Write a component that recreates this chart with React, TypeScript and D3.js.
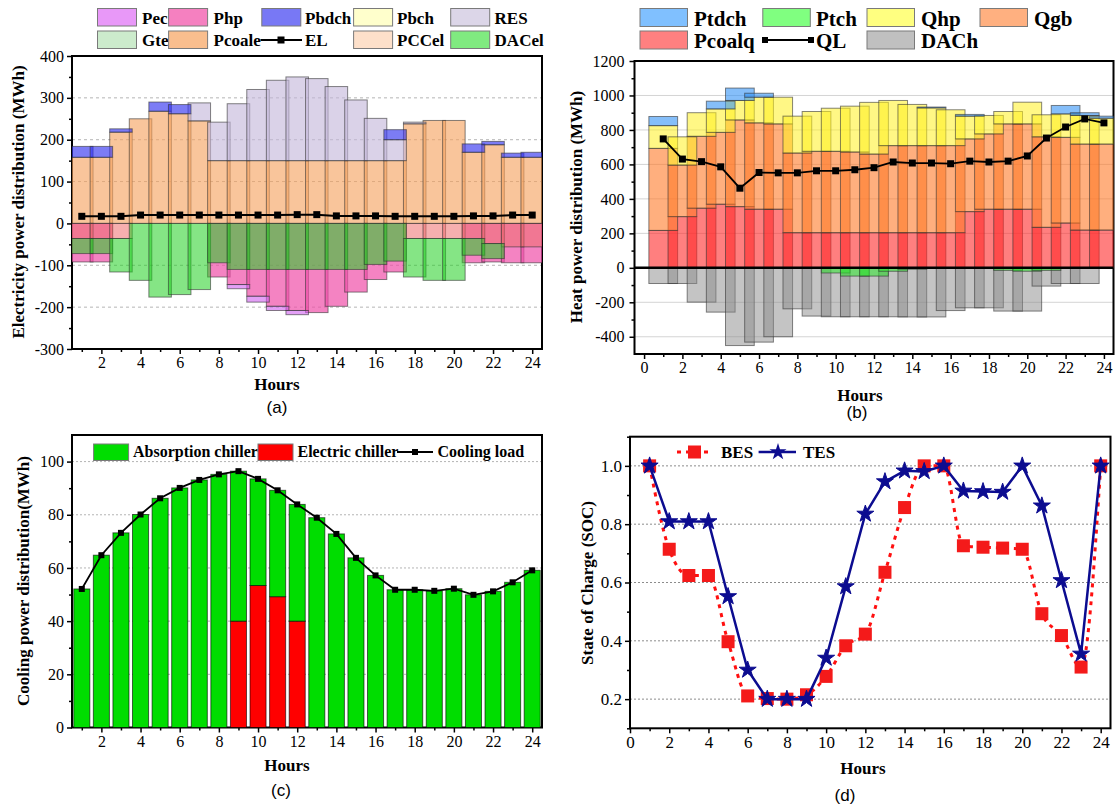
import React, { useEffect, useRef } from 'react';
import * as d3 from 'd3';

const hours = d3.range(1, 25);

// (a) electricity power distribution (MWh)
const pCoale = [158, 158, 218, 250, 268, 262, 245, 150, 150, 150, 150, 150, 150, 150, 150, 150, 150, 238, 246, 246, 170, 188, 158, 158];
const resE = [0, 0, 0, 0, 0, 0, 43, 92, 136, 170, 192, 200, 196, 177, 145, 101, 50, 4, 0, 0, 0, 0, 0, 0];
const pBdch = [26, 26, 8, 0, 22, 22, 0, 0, 0, 0, 0, 0, 0, 0, 0, 0, 24, 0, 0, 0, 20, 8, 10, 12];
const pcCel = [36, 36, 36, 0, 0, 0, 0, 0, 0, 0, 0, 0, 0, 0, 0, 0, 0, 36, 36, 36, 36, 48, 56, 56];
const daCel = [36, 36, 80, 136, 176, 170, 158, 94, 110, 110, 110, 110, 110, 110, 110, 98, 90, 92, 100, 100, 40, 36, 0, 0];
const pHp = [20, 20, 0, 0, 0, 0, 0, 34, 36, 64, 88, 98, 103, 88, 54, 36, 26, 0, 0, 0, 18, 8, 38, 38];
const pEc = [0, 0, 0, 0, 0, 0, 0, 0, 10, 14, 10, 10, 0, 0, 0, 0, 0, 0, 0, 0, 0, 0, 0, 0];
const eLoad = [17, 17, 17, 20, 20, 20, 20, 20, 20, 20, 20, 21, 21, 18, 18, 18, 17, 17, 17, 17, 18, 18, 20, 20];

// (b) heat power distribution (MWh)
const pCoalq = [217, 297, 346, 369, 355, 340, 340, 204, 204, 204, 204, 204, 204, 204, 204, 204, 326, 340, 340, 340, 235, 260, 219, 219];
const qGb = [476, 299, 417, 417, 503, 501, 495, 462, 472, 472, 468, 456, 505, 505, 505, 505, 422, 437, 495, 495, 525, 497, 499, 499];
const qHp = [132, 164, 137, 136, 113, 149, 155, 214, 231, 250, 266, 300, 262, 239, 219, 208, 132, 107, 72, 126, 128, 136, 166, 150];
const pTdch = [53, 0, 0, 45, 72, 23, 0, 0, 0, 0, 0, 0, 0, 0, 5, 0, 10, 0, 0, 0, 0, 49, 16, 12];
const pTch = [0, 0, 0, 0, 0, 0, 0, 0, 0, 30, 48, 48, 20, 8, 0, 0, 0, 0, 15, 20, 15, 0, 0, 0];
const daCh = [91, 91, 199, 257, 451, 431, 400, 238, 280, 284, 284, 284, 284, 285, 285, 248, 232, 232, 251, 251, 106, 91, 91, 0];
const qLoad = [748, 631, 616, 586, 462, 553, 551, 551, 563, 563, 569, 581, 614, 608, 608, 604, 619, 614, 619, 649, 753, 817, 864, 841];

// (c) cooling power distribution (MWh)
const absorption = [52.1, 64.8, 73.2, 80.1, 86.2, 90.1, 93.1, 95.2, 56.4, 40.1, 40.0, 43.9, 78.9, 72.8, 63.8, 57.2, 51.8, 51.8, 51.4, 52.2, 49.9, 51.2, 54.6, 59.1];
const electric = [0, 0, 0, 0, 0, 0, 0, 0, 40, 53.4, 49.2, 40, 0, 0, 0, 0, 0, 0, 0, 0, 0, 0, 0, 0];
const coolLoad = [52.1, 64.8, 73.2, 80.1, 86.2, 90.1, 93.1, 95.2, 96.4, 93.5, 89.2, 83.9, 78.9, 72.8, 63.8, 57.2, 51.8, 51.8, 51.4, 52.2, 49.9, 51.2, 54.6, 59.1];

// (d) state of charge
const bes = [1.0, 0.714, 0.624, 0.624, 0.397, 0.211, 0.202, 0.2, 0.215, 0.278, 0.383, 0.423, 0.635, 0.857, 1.0, 1.0, 0.726, 0.721, 0.718, 0.714, 0.493, 0.418, 0.31, 1.0];
const tes = [1.0, 0.809, 0.809, 0.809, 0.552, 0.3, 0.2, 0.2, 0.2, 0.341, 0.586, 0.835, 0.946, 0.983, 0.981, 1.0, 0.914, 0.912, 0.91, 1.0, 0.863, 0.607, 0.355, 1.0];

const SERIF = "'Liberation Serif', 'Times New Roman', Times, serif";
const SANS = "'Liberation Sans', Arial, Helvetica, sans-serif";

const add = (a: number[], b: number[]) => a.map((v, i) => v + b[i]);
const neg = (a: number[]) => a.map(v => -v);
const zeros = hours.map(() => 0);

function clip(svg: any, id: string, x: any, y: any) {
  const [l, r] = x.range();
  const [b, t] = y.range();
  svg.append('clipPath').attr('id', id).append('rect')
    .attr('x', l).attr('y', t).attr('width', r - l).attr('height', b - t);
  return svg.append('g').attr('clip-path', `url(#${id})`);
}

function grid(g: any, x: any, y: any, vals: number[], color: string, dash: string | null) {
  const [l, r] = x.range();
  g.append('g').selectAll('line').data(vals).join('line')
    .attr('x1', l).attr('x2', r)
    .attr('y1', (d: number) => y(d)).attr('y2', (d: number) => y(d))
    .attr('stroke', color).attr('stroke-width', 1)
    .attr('stroke-dasharray', dash);
}

function bars(g: any, x: any, y: any, lo: number[], hi: number[], w: number, fill: string, op: number, stroke = '#333') {
  const data = hours.map((h, i) => ({ h, a: lo[i], b: hi[i] })).filter(d => d.a !== d.b);
  g.append('g').selectAll('rect').data(data).join('rect')
    .attr('x', (d: any) => x(d.h - w / 2))
    .attr('width', x(w) - x(0))
    .attr('y', (d: any) => y(Math.max(d.a, d.b)))
    .attr('height', (d: any) => Math.abs(y(d.a) - y(d.b)))
    .attr('fill', fill).attr('fill-opacity', op)
    .attr('stroke', stroke).attr('stroke-opacity', 0.6).attr('stroke-width', 1);
}

function squares(g: any, x: any, y: any, vals: number[], size: number, fill: string) {
  g.append('g').selectAll('rect').data(vals).join('rect')
    .attr('x', (d: number, i: number) => x(hours[i]) - size / 2)
    .attr('y', (d: number) => y(d) - size / 2)
    .attr('width', size).attr('height', size).attr('fill', fill);
}

function frame(g: any, x: any, y: any, o: any) {
  const [l, r] = x.range();
  const [b, t] = y.range();
  const style = (sel: any) => {
    sel.select('.domain').remove();
    sel.selectAll('line').attr('stroke', '#000').attr('stroke-width', 1.5);
    sel.selectAll('text').attr('font-family', SERIF).attr('font-size', o.fs).attr('fill', '#000');
  };
  g.append('g').attr('transform', `translate(0,${b})`)
    .call(d3.axisBottom(x).tickValues(o.xMajor).tickSize(5).tickPadding(3).tickFormat((d: any) => String(d))).call(style);
  g.append('g').attr('transform', `translate(0,${b})`)
    .call(d3.axisBottom(x).tickValues(o.xMinor).tickSize(3).tickFormat(() => '')).call(style);
  g.append('g').attr('transform', `translate(${l},0)`)
    .call(d3.axisLeft(y).tickValues(o.yMajor).tickSize(5).tickPadding(o.pad || 3).tickFormat(o.yFmt)).call(style);
  g.append('g').attr('transform', `translate(${l},0)`)
    .call(d3.axisLeft(y).tickValues(o.yMinor).tickSize(3).tickFormat(() => '')).call(style);
  g.append('rect').attr('x', l).attr('y', t).attr('width', r - l).attr('height', b - t)
    .attr('fill', 'none').attr('stroke', '#000').attr('stroke-width', 2);
}

function text(g: any, x: number, y: number, s: string, size: number, o: any = {}) {
  const t = g.append('text').attr('x', x).attr('y', y).text(s)
    .attr('font-family', o.family || SERIF).attr('font-size', size)
    .attr('font-weight', o.bold === false ? 'normal' : 'bold')
    .attr('text-anchor', o.anchor || 'start').attr('fill', '#000');
  if (o.rotate) t.attr('transform', `rotate(-90,${x},${y})`);
  return t;
}

function swatch(g: any, x: number, y: number, w: number, h: number, fill: string) {
  g.append('rect').attr('x', x).attr('y', y).attr('width', w).attr('height', h)
    .attr('fill', fill).attr('stroke', '#7a7a7a').attr('stroke-width', 1);
}

function drawA(svg: any) {
  const x = d3.scaleLinear().domain([0.5, 24.5]).range([72, 542]);
  const y = d3.scaleLinear().domain([-300, 400]).range([349, 56]);
  const g = svg.append('g');
  grid(g, x, y, [-200, -100, 100, 200, 300], '#b5b5b5', '3,3');
  const p = clip(svg, 'clipA', x, y);
  const w = 1.15;
  const s1 = add(pCoale, resE);
  const s2 = add(s1, pBdch);
  bars(p, x, y, zeros, pCoale, w, '#F5A25E', 0.62);
  bars(p, x, y, pCoale, s1, w, '#C4B6DA', 0.62);
  bars(p, x, y, s1, s2, w, '#3535F0', 0.65);
  const n1 = add(pcCel, daCel);
  const n2 = add(n1, pHp);
  const n3 = add(n2, pEc);
  // Php drawn behind the stack so the overlapping green reads olive, as in the source
  bars(p, x, y, zeros, neg(n2.map((v, i) => (pHp[i] > 0 ? v : 0))), w, '#F04FA8', 0.7);
  bars(p, x, y, zeros, neg(pcCel), w, '#EE6E6E', 0.55);
  bars(p, x, y, neg(pcCel), neg(n1), w, '#20D020', 0.55);
  bars(p, x, y, neg(n2), neg(n3), w, '#D060F0', 0.6);
  const line = d3.line<number>().x((d, i) => x(hours[i])).y(d => y(d));
  p.append('path').attr('d', line(eLoad)).attr('fill', 'none').attr('stroke', '#000').attr('stroke-width', 2);
  squares(p, x, y, eLoad, 7, '#000');
  frame(g, x, y, {
    xMajor: d3.range(2, 25, 2), xMinor: d3.range(1, 25, 2),
    yMajor: d3.range(-300, 401, 100), yMinor: d3.range(-250, 400, 100),
    yFmt: (d: any) => String(d), fs: 16,
  });
  text(g, 24, 202, 'Electricity power distribution (MWh)', 17, { rotate: true, anchor: 'middle' });
  text(g, 277, 390, 'Hours', 17, { anchor: 'middle' });
  text(g, 277, 413, '(a)', 17, { anchor: 'middle', bold: false, family: SANS });

  // legend
  const sx = [97.5, 168.6, 261.8, 353.6, 450.7];
  const tx = [142, 213.6, 305, 397, 494.6];
  const row1 = [['Pec', '#E898F8'], ['Php', '#F580C0'], ['Pbdch', '#7878F5'], ['Pbch', '#FFFFCC'], ['RES', '#DCD6E8']];
  const row2 = [['Gte', '#CCEBCC'], ['Pcoale', '#F9BE8E'], ['EL', ''], ['PCCel', '#FDE0CA'], ['DACel', '#80EA80']];
  row1.forEach((d, i) => { swatch(g, sx[i], 8.5, 39, 17.5, d[1]); text(g, tx[i], 23.5, d[0], 17); });
  row2.forEach((d, i) => {
    if (d[1]) swatch(g, sx[i], 31, 39, 17.5, d[1]);
    else {
      g.append('line').attr('x1', 260.5).attr('x2', 302).attr('y1', 40).attr('y2', 40).attr('stroke', '#000').attr('stroke-width', 2);
      g.append('rect').attr('x', 277.5).attr('y', 36.5).attr('width', 7).attr('height', 7).attr('fill', '#000');
    }
    text(g, tx[i], 46, d[0], 17);
  });
}

function drawB(svg: any) {
  const x = d3.scaleLinear().domain([-0.5, 24.5]).range([634.5, 1113.5]);
  const y = d3.scaleLinear().domain([-500, 1200]).range([354, 61]);
  const g = svg.append('g');
  grid(g, x, y, [-400, -200, 200, 400, 600, 800, 1000], '#d4d4d4', null);
  const p = clip(svg, 'clipB', x, y);
  const w = 1.5;
  bars(p, x, y, zeros, neg(daCh), w, '#8A8A8A', 0.5);
  bars(p, x, y, zeros, neg(pTch), w, '#2EE82E', 0.55);
  const s1 = add(pCoalq, qGb);
  const s2 = add(s1, qHp);
  const s3 = add(s2, pTdch);
  bars(p, x, y, zeros, pCoalq, w, '#FF2A2A', 0.6);
  bars(p, x, y, pCoalq, s1, w, '#FF7A28', 0.6);
  bars(p, x, y, s1, s2, w, '#FFF020', 0.55);
  bars(p, x, y, s2, s3, w, '#3392F5', 0.6);
  p.append('line').attr('x1', x(-0.5)).attr('x2', x(24.5)).attr('y1', y(0)).attr('y2', y(0))
    .attr('stroke', '#000').attr('stroke-width', 2.5);
  const line = d3.line<number>().x((d, i) => x(hours[i])).y(d => y(d));
  p.append('path').attr('d', line(qLoad)).attr('fill', 'none').attr('stroke', '#000').attr('stroke-width', 1.8);
  squares(p, x, y, qLoad, 7, '#000');
  frame(g, x, y, {
    xMajor: d3.range(0, 25, 2), xMinor: d3.range(1, 25, 2),
    yMajor: d3.range(-400, 1201, 200), yMinor: d3.range(-300, 1200, 200),
    yFmt: (d: any) => String(d), fs: 16, pad: 5,
  });
  text(g, 582, 207, 'Heat power distribution (MWh)', 17, { rotate: true, anchor: 'middle' });
  text(g, 860, 401, 'Hours', 17, { anchor: 'middle' });
  text(g, 857, 418, '(b)', 17, { anchor: 'middle', bold: false, family: SANS });

  const sx = [640, 762.8, 867, 980];
  const tx = [694, 816, 921, 1034];
  const row1 = [['Ptdch', '#80C0FF'], ['Ptch', '#80FF80'], ['Qhp', '#FFFF80'], ['Qgb', '#FFB080']];
  row1.forEach((d, i) => { swatch(g, sx[i], 8.5, 47.5, 18, d[1]); text(g, tx[i], 26, d[0], 21); });
  swatch(g, sx[0], 31, 47.5, 18, '#FF8080');
  text(g, tx[0], 48, 'Pcoalq', 21);
  g.append('line').attr('x1', 765).attr('x2', 811).attr('y1', 40).attr('y2', 40).attr('stroke', '#000').attr('stroke-width', 2);
  g.append('rect').attr('x', 762).attr('y', 37).attr('width', 6).attr('height', 6).attr('fill', '#000');
  g.append('rect').attr('x', 808).attr('y', 37).attr('width', 6).attr('height', 6).attr('fill', '#000');
  text(g, tx[1], 48, 'QL', 21);
  swatch(g, sx[2], 31, 47.5, 18, '#C0C0C0');
  text(g, tx[2], 48, 'DACh', 21);
}

function drawC(svg: any) {
  const x = d3.scaleLinear().domain([0.5, 24.5]).range([72, 542]);
  const y = d3.scaleLinear().domain([0, 110]).range([727.5, 435]);
  const g = svg.append('g');
  grid(g, x, y, [20, 40, 60, 80, 100], '#b5b5b5', '2,2');
  const p = clip(svg, 'clipC', x, y);
  const w = 0.82;
  bars(p, x, y, zeros, electric, w, '#FF0000', 1, '#000');
  bars(p, x, y, electric, add(electric, absorption), w, '#00DD00', 1, '#000');
  const line = d3.line<number>().x((d, i) => x(hours[i])).y(d => y(d));
  p.append('path').attr('d', line(coolLoad)).attr('fill', 'none').attr('stroke', '#000').attr('stroke-width', 1.8);
  squares(p, x, y, coolLoad, 6, '#000');
  frame(g, x, y, {
    xMajor: d3.range(2, 25, 2), xMinor: d3.range(1, 25, 2),
    yMajor: d3.range(0, 101, 20), yMinor: d3.range(10, 110, 20),
    yFmt: (d: any) => String(d), fs: 16,
  });
  text(g, 29, 581, 'Cooling power distribution(MWh)', 17, { rotate: true, anchor: 'middle' });
  text(g, 287, 771, 'Hours', 17, { anchor: 'middle' });
  text(g, 281, 796, '(c)', 17, { anchor: 'middle', bold: false, family: SANS });

  swatch(g, 93.6, 444, 35, 16.5, '#00DD00');
  text(g, 133, 457, 'Absorption chiller', 16);
  swatch(g, 258, 444, 35, 16.5, '#FF0000');
  text(g, 297.5, 457, 'Electric chiller', 16);
  g.append('line').attr('x1', 397).attr('x2', 433).attr('y1', 452).attr('y2', 452).attr('stroke', '#000').attr('stroke-width', 1.8);
  g.append('rect').attr('x', 412).attr('y', 449).attr('width', 6).attr('height', 6).attr('fill', '#000');
  text(g, 437.5, 457, 'Cooling load', 16);
}

function drawD(svg: any) {
  const x = d3.scaleLinear().domain([0, 24.5]).range([630, 1110.5]);
  const y = d3.scaleLinear().domain([0.1, 1.1]).range([728.3, 436.7]);
  const g = svg.append('g');
  grid(g, x, y, [0.2, 0.4, 0.6, 0.8, 1.0], '#8c8c8c', '2,2');
  const p = g.append('g');
  const lineB = d3.line<number>().x((d, i) => x(hours[i])).y(d => y(d)).curve(d3.curveMonotoneX);
  p.append('path').attr('d', lineB(bes)).attr('fill', 'none').attr('stroke', '#FF1010')
    .attr('stroke-width', 3).attr('stroke-dasharray', '4,5');
  squares(p, x, y, bes, 13, '#F41A1A');
  const lineT = d3.line<number>().x((d, i) => x(hours[i])).y(d => y(d));
  p.append('path').attr('d', lineT(tes)).attr('fill', 'none').attr('stroke', '#0C0C90').attr('stroke-width', 2.5);
  const star = d3.symbol().type(d3.symbolStar).size(90)();
  p.append('g').selectAll('path').data(tes).join('path')
    .attr('d', star)
    .attr('transform', (d: number, i: number) => `translate(${x(hours[i])},${y(d)})`)
    .attr('fill', '#0C0C90').attr('stroke', '#0C0C90').attr('stroke-width', 1);
  frame(g, x, y, {
    xMajor: d3.range(0, 25, 2), xMinor: d3.range(1, 25, 2),
    yMajor: [0.2, 0.4, 0.6, 0.8, 1.0], yMinor: [0.1, 0.3, 0.5, 0.7, 0.9, 1.1],
    yFmt: d3.format('.1f'), fs: 17,
  });
  text(g, 593, 583, 'State of Charge (SOC)', 17, { rotate: true, anchor: 'middle' });
  text(g, 863, 774, 'Hours', 17, { anchor: 'middle' });
  text(g, 845, 801, '(d)', 17, { anchor: 'middle', bold: false, family: SANS });

  g.append('line').attr('x1', 677).attr('x2', 711).attr('y1', 452).attr('y2', 452)
    .attr('stroke', '#FF1010').attr('stroke-width', 3).attr('stroke-dasharray', '4,5');
  g.append('rect').attr('x', 688).attr('y', 445.5).attr('width', 13).attr('height', 13).attr('fill', '#F41A1A');
  text(g, 721, 458, 'BES', 17);
  g.append('line').attr('x1', 758.6).attr('x2', 796).attr('y1', 452).attr('y2', 452)
    .attr('stroke', '#0C0C90').attr('stroke-width', 2.5);
  g.append('path').attr('d', star).attr('transform', 'translate(778,452)').attr('fill', '#0C0C90');
  text(g, 803, 458, 'TES', 17);
}

export default function App() {
  const ref = useRef<SVGSVGElement>(null);
  useEffect(() => {
    const svg = d3.select(ref.current);
    svg.selectAll('*').remove();
    drawA(svg);
    drawB(svg);
    drawC(svg);
    drawD(svg);
  }, []);
  return (
    <svg ref={ref} width={1116} height={807}
      style={{ position: 'absolute', left: 0, top: 0, background: '#fff' }} />
  );
}
